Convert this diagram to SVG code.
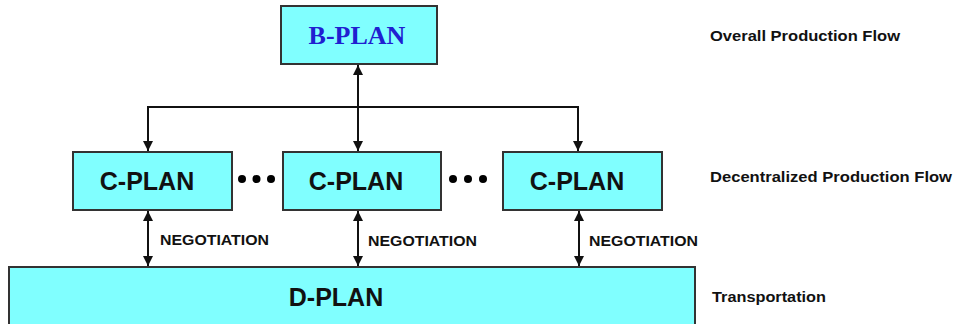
<svg xmlns="http://www.w3.org/2000/svg" width="955" height="324" viewBox="0 0 955 324">
<defs>
<marker id="ah" viewBox="0 0 10 10" refX="10" refY="5" markerWidth="10" markerHeight="10" markerUnits="userSpaceOnUse" orient="auto-start-reverse">
<path d="M0,0 L10,5 L0,10 z" fill="#111"/>
</marker>
<style>
.box{fill:#80ffff;stroke:#333;stroke-width:2}
.lbl{font-family:"Liberation Sans",Arial,sans-serif;font-weight:bold;font-size:25px;fill:#111;text-anchor:middle}
.side{font-family:"Liberation Sans",Arial,sans-serif;font-weight:bold;font-size:14px;fill:#111}
.neg{font-family:"Liberation Sans",Arial,sans-serif;font-weight:bold;font-size:15px;fill:#111}
.ln{stroke:#111;stroke-width:2;fill:none}
.dot{fill:#000}
</style>
</defs>
<rect width="955" height="324" fill="#fff"/>
<g id="connectors">
<line class="ln" x1="358" y1="107" x2="358" y2="65" marker-end="url(#ah)"/>
<polyline class="ln" points="148,151 148,107 578,107 578,151" marker-start="url(#ah)" marker-end="url(#ah)"/>
<line class="ln" x1="358" y1="107" x2="358" y2="151" marker-end="url(#ah)"/>
<line class="ln" x1="148" y1="211" x2="148" y2="266" marker-start="url(#ah)" marker-end="url(#ah)"/>
<line class="ln" x1="358" y1="211" x2="358" y2="266" marker-start="url(#ah)" marker-end="url(#ah)"/>
<line class="ln" x1="579" y1="211" x2="579" y2="266" marker-start="url(#ah)" marker-end="url(#ah)"/>
<text class="neg" x="160" y="245" textLength="109" lengthAdjust="spacingAndGlyphs">NEGOTIATION</text>
<text class="neg" x="368" y="246" textLength="109" lengthAdjust="spacingAndGlyphs">NEGOTIATION</text>
<text class="neg" x="589" y="246" textLength="109" lengthAdjust="spacingAndGlyphs">NEGOTIATION</text>
</g>
<g id="bplan">
<rect class="box" x="281" y="6" width="156" height="58"/>
<text x="357" y="44" text-anchor="middle" font-family="'Liberation Serif','Times New Roman',serif" font-weight="bold" font-size="26" fill="#2020d0">B-PLAN</text>
</g>
<g id="cplan1">
<rect class="box" x="73" y="152" width="159" height="58"/>
<text class="lbl" x="147" y="190">C-PLAN</text>
</g>
<g id="dots1">
<circle class="dot" cx="242" cy="179" r="4"/>
<circle class="dot" cx="256.5" cy="179" r="4"/>
<circle class="dot" cx="271" cy="179" r="4"/>
</g>
<g id="cplan2">
<rect class="box" x="283" y="152" width="158" height="58"/>
<text class="lbl" x="356" y="190">C-PLAN</text>
</g>
<g id="dots2">
<circle class="dot" cx="453" cy="179" r="4"/>
<circle class="dot" cx="468" cy="179" r="4"/>
<circle class="dot" cx="483" cy="179" r="4"/>
</g>
<g id="cplan3">
<rect class="box" x="503" y="152" width="159" height="58"/>
<text class="lbl" x="577" y="190">C-PLAN</text>
</g>
<g id="dplan">
<rect class="box" x="9" y="267" width="686" height="70"/>
<text class="lbl" x="336" y="306">D-PLAN</text>
</g>
<g id="labels">
<text class="side" x="710" y="41" textLength="190" lengthAdjust="spacingAndGlyphs">Overall Production Flow</text>
<text class="side" x="710" y="182" textLength="242" lengthAdjust="spacingAndGlyphs">Decentralized Production Flow</text>
<text class="side" x="712" y="302" textLength="114" lengthAdjust="spacingAndGlyphs">Transportation</text>
</g>
</svg>
